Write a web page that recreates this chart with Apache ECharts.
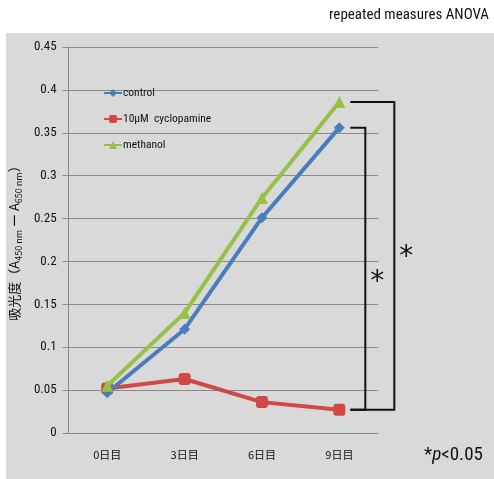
<!DOCTYPE html>
<html><head><meta charset="utf-8">
<script src="https://cdn.jsdelivr.net/npm/echarts@6/dist/echarts.min.js"></script>
<style>html,body{margin:0;padding:0;background:#fff}#c{width:494px;height:479px}</style>
</head><body><div id="c"></div>
<script>
const categories = ['0日目', '3日目', '6日目', '9日目'];
const control = [0.047, 0.121, 0.251, 0.356];
const cyclopamine = [0.052, 0.063, 0.036, 0.027];
const methanol = [0.055, 0.140, 0.274, 0.386];
const yTicks = [0, 0.05, 0.1, 0.15, 0.2, 0.25, 0.3, 0.35, 0.4, 0.45];
// significance brackets: [category index, top value, bottom value, kind]
const brackets = [
  [3, control[3], cyclopamine[3], 0],
  [3, methanol[3], cyclopamine[3], 1]
];

const chart = echarts.init(document.getElementById('c'));
const font = 'Liberation Sans Narrow, Roboto Condensed, DejaVu Sans Condensed, sans-serif';
chart.setOption({
  animation: false,
  graphic: [
    {type: 'rect', z: -10, silent: true, shape: {x: 6, y: 33, width: 488, height: 446}, style: {fill: '#d9d9d9'}},
    {type: 'text', right: 5, top: 8, style: {text: 'repeated measures ANOVA', fontSize: 15, fontFamily: font, fill: '#111'}},
    {type: 'text', left: 424, top: 446, style: {
      text: '{a|*}{b|p}{a|<0.05}', rich: {
        a: {fontSize: 19, fontFamily: font, fill: '#111'},
        b: {fontSize: 19, fontFamily: font, fontStyle: 'italic', fill: '#111'}
      }}}
  ],
  grid: {left: 65, right: 116, top: 47, bottom: 46},
  legend: {
    orient: 'vertical', left: 98, top: 82, itemGap: 14, itemWidth: 18, itemHeight: 10,
    textStyle: {fontSize: 11.5, fontFamily: font, color: '#111', padding: [0, 0, 0, -4]},
    data: ['control', '10μM  cyclopamine', 'methanol']
  },
  xAxis: {
    type: 'category', data: categories, boundaryGap: true,
    axisLine: {lineStyle: {color: '#888'}},
    axisTick: {lineStyle: {color: '#888'}, length: 5},
    axisLabel: {fontSize: 11, color: '#111', margin: 16, fontFamily: 'Noto Sans CJK JP'}
  },
  yAxis: {
    type: 'value', min: 0, max: 0.45, interval: 0.05,
    axisLine: {show: true, lineStyle: {color: '#888'}},
    axisTick: {show: true, length: 6, lineStyle: {color: '#888'}},
    axisLabel: {fontSize: 13, color: '#111', margin: 12, fontFamily: font,
      formatter: v => { const t = yTicks.find(x => Math.abs(x - v) < 1e-9); return String(t !== undefined ? +t.toFixed(2) : v); }},
    splitLine: {lineStyle: {color: '#8a8a8a', width: 1}},
    name: '{n|吸光度（A}{s|450 nm}{n| ー A}{s|650 nm}{n|）}',
    nameLocation: 'middle', nameRotate: 90, nameGap: 37,
    nameTextStyle: {rich: {
      n: {fontSize: 13, fontFamily: 'Noto Sans CJK JP', color: '#111', verticalAlign: 'bottom'},
      s: {fontSize: 9, fontFamily: 'Noto Sans CJK JP', color: '#111', verticalAlign: 'bottom', padding: [0, 0, -2, 0]}
    }}
  },
  series: [
    {name: 'control', type: 'line', data: control, symbol: 'diamond', symbolSize: 11,
      lineStyle: {width: 4, color: '#4a7ebb'}, itemStyle: {color: '#4a7ebb'}, z: 4},
    {name: '10μM  cyclopamine', type: 'line', data: cyclopamine, symbol: 'roundRect', symbolSize: 12,
      lineStyle: {width: 4, color: '#d04848'}, itemStyle: {color: '#d04848'}, z: 3},
    {name: 'methanol', type: 'line', data: methanol, symbol: 'triangle', symbolSize: 12,
      lineStyle: {width: 4, color: '#98c047'}, itemStyle: {color: '#98c047'}, z: 5},
    {type: 'custom', data: brackets, silent: true, z: 6,
      renderItem: function (params, api) {
        const p1 = api.coord([api.value(0), api.value(1)]);
        const p2 = api.coord([api.value(0), api.value(2)]);
        const outer = api.value(3) === 1;
        const x0 = p1[0] + 11;
        const x1 = p1[0] + (outer ? 55 : 26);
        const ymid = (p1[1] + p2[1]) / 2 + (outer ? 2 : 14);
        return {type: 'group', children: [
          {type: 'polyline', shape: {points: [[x0, p1[1]], [x1, p1[1]], [x1, p2[1]], [x0, p2[1]]]},
            style: {stroke: '#111', lineWidth: 2, fill: null}},
          {type: 'text', style: {text: '*', x: x1 + 12, y: ymid, fontSize: 28, fontFamily: 'DejaVu Sans',
            fill: '#111', align: 'center', verticalAlign: 'middle'}}
        ]};
      }
    }
  ]
});
</script></body></html>
